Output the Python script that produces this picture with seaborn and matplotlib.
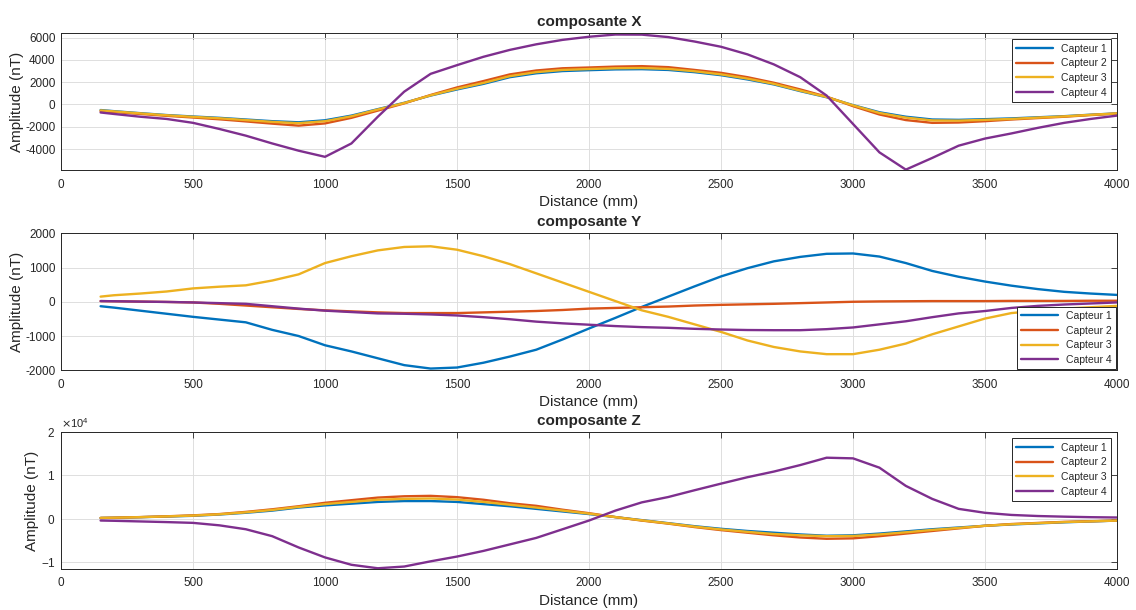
import matplotlib
matplotlib.use("Agg")
import matplotlib.pyplot as plt
import numpy as np
import pandas as pd
import seaborn as sns

# distance grid (mm) shared by every sensor
distance = [150, 200, 300, 400, 500, 600, 700, 800, 900, 1000,
            1100, 1200, 1300, 1400, 1500, 1600, 1700, 1800, 1900, 2000,
            2100, 2200, 2300, 2400, 2500, 2600, 2700, 2800, 2900, 3000,
            3100, 3200, 3300, 3400, 3500, 3600, 3700, 3800, 3900, 4000]

sensors = ['Capteur 1', 'Capteur 2', 'Capteur 3', 'Capteur 4']

# composante X (nT)
x_c1 = [-500, -600, -780, -950, -1080, -1200, -1350, -1500, -1600, -1420,
        -1000, -420, 150, 800, 1350, 1850, 2450, 2800, 3000, 3080,
        3150, 3170, 3100, 2900, 2630, 2250, 1800, 1200, 650, -60,
        -700, -1100, -1350, -1380, -1320, -1250, -1150, -1050, -920, -800]
x_c2 = [-600, -680, -850, -1020, -1170, -1330, -1520, -1720, -1900, -1700,
        -1200, -550, 100, 850, 1530, 2100, 2700, 3050, 3250, 3320,
        3400, 3440, 3350, 3100, 2840, 2450, 1950, 1350, 700, -150,
        -900, -1400, -1650, -1620, -1500, -1350, -1220, -1100, -950, -820]
x_c3 = [-530, -620, -800, -970, -1110, -1240, -1400, -1560, -1680, -1500,
        -1060, -450, 130, 820, 1410, 1930, 2540, 2900, 3100, 3180,
        3250, 3270, 3190, 2980, 2700, 2320, 1850, 1240, 670, -80,
        -760, -1180, -1430, -1450, -1380, -1300, -1180, -1070, -930, -800]
x_c4 = [-720, -850, -1100, -1300, -1650, -2200, -2800, -3500, -4150, -4700,
        -3500, -1100, 1150, 2750, 3530, 4280, 4900, 5400, 5800, 6080,
        6280, 6270, 6050, 5650, 5180, 4500, 3600, 2450, 800, -1750,
        -4300, -5850, -4800, -3700, -3060, -2600, -2100, -1650, -1300, -1000]

# composante Y (nT)
y_c1 = [-130, -170, -260, -350, -440, -520, -600, -820, -1000, -1270,
        -1450, -1650, -1850, -1950, -1920, -1780, -1600, -1400, -1100, -780,
        -470, -150, 150, 450, 740, 980, 1180, 1310, 1400, 1410,
        1320, 1130, 900, 730, 590, 470, 370, 290, 240, 200]
y_c2 = [20, 15, 5, -5, -20, -60, -110, -160, -210, -250,
        -280, -310, -330, -330, -330, -310, -290, -270, -240, -200,
        -180, -160, -140, -110, -90, -75, -60, -40, -20, 0,
        10, 15, 20, 20, 20, 25, 25, 25, 30, 30]
y_c3 = [150, 190, 240, 300, 390, 440, 480, 620, 800, 1130,
        1330, 1500, 1600, 1620, 1520, 1330, 1100, 830, 560, 290,
        20, -250, -440, -660, -880, -1130, -1320, -1450, -1530, -1530,
        -1400, -1220, -950, -720, -490, -330, -260, -200, -160, -120]
y_c4 = [20, 15, 5, -5, -20, -40, -60, -130, -200, -260,
        -300, -340, -350, -370, -400, -450, -510, -580, -630, -670,
        -710, -740, -760, -790, -810, -825, -830, -830, -800, -750,
        -660, -570, -450, -340, -270, -180, -120, -80, -50, -20]

# composante Z (nT)
z_c1 = [200, 250, 380, 530, 700, 1000, 1400, 1900, 2600, 3100,
        3500, 3900, 4100, 4100, 3900, 3400, 2900, 2300, 1700, 1100,
        400, -300, -1000, -1700, -2300, -2800, -3200, -3600, -3900, -3800,
        -3400, -2900, -2400, -2000, -1600, -1300, -1050, -800, -600, -400]
z_c2 = [200, 260, 400, 580, 800, 1100, 1600, 2200, 2900, 3700,
        4300, 4900, 5200, 5300, 5000, 4400, 3600, 3000, 2100, 1300,
        400, -400, -1100, -1900, -2600, -3200, -3800, -4300, -4600, -4500,
        -4000, -3400, -2800, -2200, -1600, -1200, -950, -700, -550, -400]
z_c3 = [220, 260, 390, 560, 750, 1050, 1500, 2050, 2750, 3400,
        3900, 4400, 4600, 4700, 4450, 3900, 3250, 2600, 1900, 1200,
        400, -350, -1050, -1800, -2450, -3000, -3500, -3800, -4000, -3950,
        -3600, -3100, -2550, -2100, -1600, -1250, -1000, -750, -580, -400]
z_c4 = [-390, -450, -600, -750, -930, -1500, -2400, -4000, -6600, -8900,
        -10600, -11400, -11000, -9800, -8700, -7400, -5900, -4400, -2400, -390,
        1900, 3800, 5030, 6600, 8120, 9600, 10900, 12400, 14100, 13950,
        11800, 7600, 4600, 2300, 1390, 900, 650, 500, 380, 310]

palette = ['#0072BD', '#D95319', '#EDB120', '#7E2F8E']

panels = [
    ('composante X', [x_c1, x_c2, x_c3, x_c4], (-5900, 6400), [-4000, -2000, 0, 2000, 4000, 6000], 'upper right'),
    ('composante Y', [y_c1, y_c2, y_c3, y_c4], (-2000, 2000), [-2000, -1000, 0, 1000, 2000], 'lower right'),
    ('composante Z', [z_c1, z_c2, z_c3, z_c4], (-11600, 20000), [-10000, 0, 10000, 20000], 'upper right'),
]

sns.set_theme(style='whitegrid')
plt.rcParams['font.family'] = ['Liberation Sans', 'DejaVu Sans']
plt.rcParams['axes.unicode_minus'] = False

fig = plt.figure(figsize=(11.36, 6.1), dpi=100)
bottoms = [0.721, 0.393, 0.067]

for (title, series, ylim, yticks, legloc), bottom in zip(panels, bottoms):
    ax = fig.add_axes([0.0537, bottom, 0.9296, 0.2246])
    df = pd.DataFrame({
        'Distance': np.tile(distance, 4),
        'Amplitude': np.concatenate(series),
        'Capteur': np.repeat(sensors, len(distance)),
    })
    sns.lineplot(data=df, x='Distance', y='Amplitude', hue='Capteur',
                 palette=palette, estimator=None, linewidth=1.7, ax=ax)
    ax.set_xlim(0, 4000)
    ax.set_xticks(range(0, 4001, 500))
    ax.set_ylim(*ylim)
    ax.set_yticks(yticks)
    if title == 'composante Z':
        ax.ticklabel_format(axis='y', style='sci', scilimits=(0, 0), useMathText=True)
        ax.yaxis.get_offset_text().set_fontsize(8)
        ax.yaxis.get_offset_text().set_color('#262626')
    ax.set_title(title, fontsize=11, fontweight='bold', pad=5)
    ax.set_xlabel('Distance (mm)', fontsize=11, color='#262626', labelpad=3)
    ax.set_ylabel('Amplitude (nT)', fontsize=11, color='#262626', labelpad=1)
    ax.grid(True, color='#dedede', linewidth=0.7)
    ax.tick_params(direction='in', length=4, width=0.6, top=True, right=True,
                   labelsize=8.5, colors='#262626', pad=4)
    ax.tick_params(axis='x', pad=6)
    for sp in ax.spines.values():
        sp.set_color('#262626')
        sp.set_linewidth(0.7)
    leg = ax.legend(loc=legloc, fontsize=7.5, frameon=True, fancybox=False,
                    framealpha=1, edgecolor='#262626', handlelength=3.5,
                    borderaxespad=0.6 if legloc == 'upper right' else 0.1,
                    labelspacing=0.45, borderpad=0.4)
    leg.get_frame().set_linewidth(0.7)

fig.savefig('out.png', dpi=100)
